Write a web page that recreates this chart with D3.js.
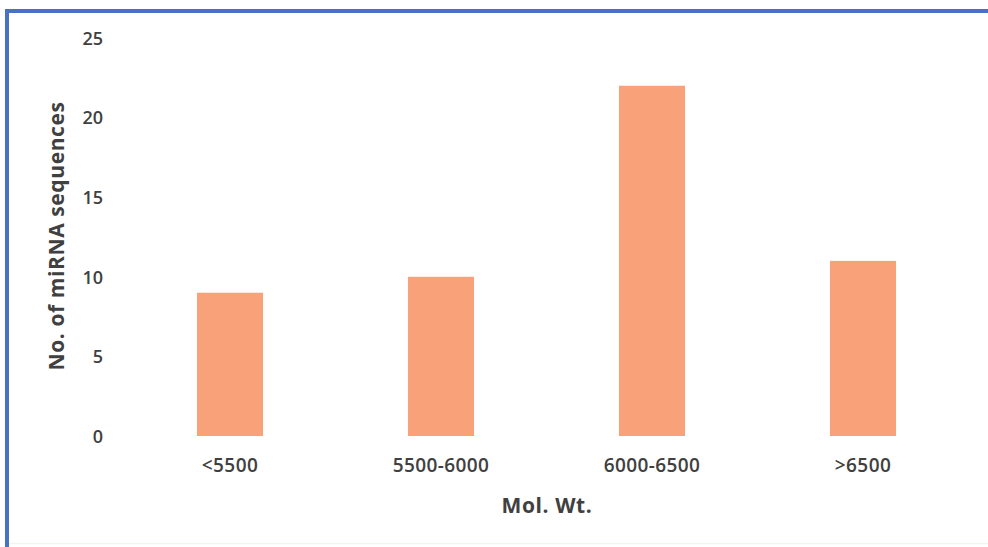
<!DOCTYPE html>
<html>
<head>
<meta charset="utf-8">
<script src="https://cdn.jsdelivr.net/npm/d3@7"></script>
<style>
  html, body { margin: 0; padding: 0; background: #ffffff; }
  svg { display: block; }
</style>
</head>
<body>
<svg id="chart" width="988" height="547"></svg>
<script>
// Molecular weight bins and number of miRNA sequences in each
const categories = ["<5500", "5500-6000", "6000-6500", ">6500"];
const counts = [9, 10, 22, 11];
const yTicks = [0, 5, 10, 15, 20, 25];

const W = 988, H = 547;
const svg = d3.select("#chart");
const font = "'Open Sans', 'Liberation Sans', sans-serif";
const textColor = "#404040";

// Frame
svg.append("rect").attr("x", 0).attr("y", 0).attr("width", W).attr("height", H).attr("fill", "#ffffff");
svg.append("line").attr("x1", 7).attr("x2", 7).attr("y1", 9).attr("y2", H)
  .attr("stroke", "#4a72c4").attr("stroke-width", 4);
svg.append("line").attr("x1", 5).attr("x2", W).attr("y1", 11).attr("y2", 11)
  .attr("stroke", "#4a72c4").attr("stroke-width", 4);
svg.append("line").attr("x1", 9).attr("x2", W).attr("y1", 543.5).attr("y2", 543.5)
  .attr("stroke", "#eef7ea").attr("stroke-width", 1.5);

// Scales
const x = d3.scaleBand().domain(categories).range([124.5, 968.5])
  .paddingInner(0.687).paddingOuter(0.3435);
const y = d3.scaleLinear().domain([0, 25]).range([436, 38]);

// Bars
svg.append("g").selectAll("rect").data(counts).join("rect")
  .attr("x", (d, i) => x(categories[i]))
  .attr("width", x.bandwidth())
  .attr("y", d => y(d))
  .attr("height", d => y(0) - y(d))
  .attr("fill", "#f9a27a");

// Y axis (labels only)
const yAxis = d3.axisLeft(y).tickValues(yTicks).tickSize(0).tickPadding(0).tickFormat(d3.format("d"));
const gy = svg.append("g").attr("transform", "translate(103,0)").call(yAxis);
gy.select(".domain").remove();
gy.selectAll("text").attr("fill", textColor).style("font-family", font)
  .style("font-size", "18px").style("font-weight", "600").attr("dy", "0.35em");

// X axis (labels only)
const xAxis = d3.axisBottom(x).tickSize(0).tickPadding(0);
const gx = svg.append("g").attr("transform", "translate(0,458)").call(xAxis);
gx.select(".domain").remove();
gx.selectAll("text").attr("fill", textColor).style("font-family", font)
  .style("font-size", "19px").style("font-weight", "600").style("letter-spacing", "0.4px")
  .attr("dy", "0.71em");

// Axis titles
svg.append("text").attr("x", 547).attr("y", 513).attr("text-anchor", "middle")
  .attr("fill", textColor).style("font-family", font).style("font-size", "21px").style("font-weight", "700")
  .style("letter-spacing", "0.6px")
  .text("Mol. Wt.");
svg.append("text").attr("transform", "translate(64,236) rotate(-90)").attr("text-anchor", "middle")
  .attr("fill", textColor).style("font-family", font).style("font-size", "21px").style("font-weight", "700")
  .style("letter-spacing", "0.6px")
  .text("No. of miRNA sequences");
</script>
</body>
</html>
